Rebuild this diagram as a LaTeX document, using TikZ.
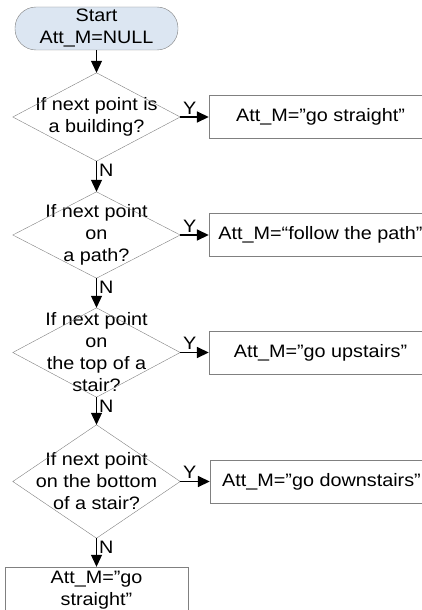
\documentclass[tikz,border=0pt]{standalone}
\usepackage{fontspec}
\setmainfont{Liberation Sans}[FakeStretch=1.1]
\usetikzlibrary{arrows.meta}
\definecolor{startfill}{HTML}{DCE6F2}
\definecolor{edgegray}{HTML}{808080}

\begin{document}
\begin{tikzpicture}[x=1pt, y=-1pt,
    every node/.style={font=\fontsize{18}{22}\selectfont},
    startbox/.style={draw=edgegray, fill=startfill, rounded corners=21pt,
        minimum width=163pt, minimum height=43pt, inner sep=0pt, align=center},
    decision/.style={minimum width=167pt, minimum height=88pt, inner sep=0pt, align=center},
    action/.style={draw=edgegray, minimum width=223pt, minimum height=43pt,
        inner sep=0pt, align=center},
    flow/.style={-{Triangle[length=12pt,width=11pt]}, line width=1pt},
    yesflow/.style={flow, line width=1.6pt},
    yes/.style={pos=0, anchor=south west, inner sep=2pt},
    no/.style={pos=0, anchor=north west, inner sep=2pt}]
    \useasboundingbox (0,0) rectangle (422,610);
    \clip (0,0) rectangle (422,610);

    % Start
    \node[startbox] (start) at (96.5,28.5) {Start\\Att\_M=NULL};

    % Decisions (text sits over the outline)
    \node[decision] (d1) at (96.5,117) {If next point is\\a building?};
    \node[decision, minimum height=86pt] (d2) at (96.5,235) {If next point\\on\\a path?};
    \node[decision, minimum height=89pt] (d3) at (96.5,352.5) {If next point\\on\\the top of a\\stair?};
    \node[decision, minimum height=113pt] (d4) at (96.5,481.5) {If next point\\on the bottom\\of a stair?};
    \foreach \d in {d1,d2,d3,d4}
        \draw[edgegray] (\d.north) -- (\d.east) -- (\d.south) -- (\d.west) -- cycle;

    % Actions
    \node[action] (a1) at (320.5,117) {Att\_M=”go straight”};
    \node[action] (a2) at (320.5,235) {Att\_M=“follow the path”};
    \node[action] (a3) at (320.5,352.5) {Att\_M=”go upstairs”};
    \node[action] (a4) at (321.5,481.5) {Att\_M=”go downstairs”};
    \node[action, minimum width=183pt, minimum height=47pt] (a5) at (96.5,590.5) {Att\_M=”go\\straight”};

    % Yes branches
    \draw[yesflow] (d1) -- node[yes] {Y} (a1);
    \draw[yesflow] (d2) -- node[yes] {Y} (a2);
    \draw[yesflow] (d3) -- node[yes] {Y} (a3);
    \draw[yesflow] (d4) -- node[yes] {Y} (a4);

    % No branches
    \draw[flow] (start) -- (d1);
    \draw[flow] (d1) -- node[no] {N} (d2);
    \draw[flow] (d2) -- node[no] {N} (d3);
    \draw[flow] (d3) -- node[no] {N} (d4);
    \draw[flow] (d4) -- node[no] {N} (a5);
\end{tikzpicture}
\end{document}
